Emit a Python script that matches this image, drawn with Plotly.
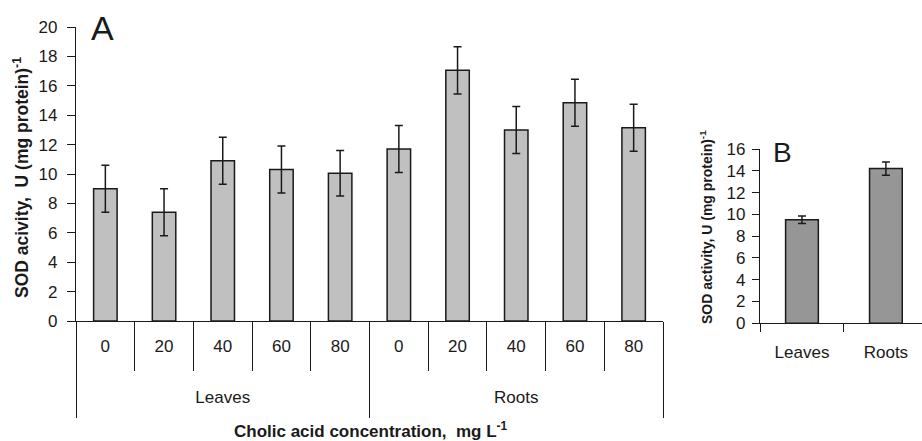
import plotly.graph_objects as go

# ---------------- data ----------------
groups = ["Leaves"] * 5 + ["Roots"] * 5
concentrations = ["0", "20", "40", "60", "80"] * 2
sod_a = [9.0, 7.4, 10.9, 10.3, 10.05, 11.7, 17.05, 13.0, 14.85, 13.15]
err_a = [1.6, 1.6, 1.6, 1.6, 1.55, 1.6, 1.6, 1.6, 1.6, 1.6]

tissues_b = ["Leaves", "Roots"]
sod_b = [9.5, 14.2]
err_b = [0.35, 0.6]

yticks_a = list(range(0, 21, 2))
yticks_b = list(range(0, 17, 2))

# ---------------- derived helpers ----------------
keys_a = [f"{g} {c}" for g, c in zip(groups, concentrations)]
group_names = list(dict.fromkeys(groups))
group_centers, group_bounds = [], [-0.5]
start = 0
for g in group_names:
    n = groups.count(g)
    group_centers.append(start + (n - 1) / 2)
    start += n
    group_bounds.append(start - 0.5)

FONT = "Liberation Sans, Arial, sans-serif"
INK = "#1a1a1a"
W, H = 922, 441

fig = go.Figure()

fig.add_trace(go.Bar(
    x=keys_a, y=sod_a, xaxis="x", yaxis="y",
    width=0.4,
    marker=dict(color="#c0c0c0", line=dict(color=INK, width=1.5)),
    error_y=dict(type="data", array=err_a, visible=True, color=INK, thickness=1.5, width=4),
    showlegend=False, hoverinfo="x+y",
))

fig.add_trace(go.Bar(
    x=tissues_b, y=sod_b, xaxis="x4", yaxis="y2",
    width=0.39,
    marker=dict(color="#969696", line=dict(color=INK, width=1.5)),
    error_y=dict(type="data", array=err_b, visible=True, color=INK, thickness=1.5, width=4),
    showlegend=False, hoverinfo="x+y",
))

# invisible helper traces so the overlay (group label / divider) axes get drawn
for ax_name, xs in (("x2", group_centers), ("x3", group_bounds)):
    fig.add_trace(go.Scatter(
        x=xs, y=[0] * len(xs), xaxis=ax_name, yaxis="y",
        mode="markers", marker=dict(opacity=0, size=1),
        hoverinfo="skip", showlegend=False,
    ))

TS = 17
tickfont = dict(family=FONT, size=TS, color=INK)

# panel geometry (pixels -> paper)
ax_l, ax_r = 76 / W, 663 / W
ay_b, ay_t = (H - 321) / H, (H - 27) / H
bx_l, bx_r = 760 / W, 1.0
by_b, by_t = (H - 323.3) / H, (H - 149) / H

common = dict(showgrid=False, zeroline=False, automargin=False)

fig.update_layout(
    width=W, height=H,
    margin=dict(l=0, r=0, t=0, b=0, autoexpand=False),
    paper_bgcolor="white", plot_bgcolor="white",
    xaxis=dict(
        domain=[ax_l, ax_r], anchor="y",
        type="category", categoryorder="array", categoryarray=keys_a,
        range=[-0.5, len(keys_a) - 0.5],
        tickmode="array", tickvals=keys_a, ticktext=concentrations,
        tickson="boundaries", ticks="outside", ticklen=49, tickwidth=1.3, tickcolor=INK,
        ticklabelstandoff=9,
        showline=True, linecolor=INK, linewidth=1.3,
        tickfont=tickfont, **common,
    ),
    xaxis2=dict(
        overlaying="x", anchor="y", type="linear",
        range=[-0.5, len(keys_a) - 0.5],
        tickmode="array", tickvals=group_centers, ticktext=group_names,
        ticks="", ticklabelstandoff=64,
        showline=False, tickfont=tickfont, **common,
    ),
    xaxis3=dict(
        overlaying="x", anchor="y", type="linear",
        range=[-0.5, len(keys_a) - 0.5],
        tickmode="array", tickvals=group_bounds,
        showticklabels=False,
        ticks="outside", ticklen=96, tickwidth=1.3, tickcolor=INK,
        showline=False, **common,
    ),
    yaxis=dict(
        domain=[ay_b, ay_t], anchor="x",
        range=[0, 20], tickmode="array", tickvals=yticks_a,
        ticks="outside", ticklen=8, tickwidth=1.3, tickcolor=INK,
        ticklabelstandoff=6,
        showline=True, linecolor=INK, linewidth=1.3,
        tickfont=tickfont, **common,
    ),
    xaxis4=dict(
        domain=[bx_l, bx_r], anchor="y2",
        type="category", categoryorder="array", categoryarray=tissues_b,
        range=[-0.5, 1.43],
        tickson="boundaries", ticks="outside", ticklen=8, tickwidth=1.3, tickcolor=INK,
        ticklabelstandoff=13,
        showline=True, linecolor=INK, linewidth=1.3,
        tickfont=tickfont, **common,
    ),
    yaxis2=dict(
        domain=[by_b, by_t], anchor="x4",
        range=[0, 16], tickmode="array", tickvals=yticks_b,
        ticks="outside", ticklen=7, tickwidth=1.3, tickcolor=INK,
        ticklabelstandoff=3,
        showline=True, linecolor=INK, linewidth=1.3,
        tickfont=tickfont, **common,
    ),
    annotations=[
        dict(text="A", x=102 / W, y=(H - 28) / H, xref="paper", yref="paper",
             showarrow=False, xanchor="center", yanchor="middle",
             font=dict(family=FONT, size=34, color=INK)),
        dict(text="B", x=782 / W, y=(H - 152) / H, xref="paper", yref="paper",
             showarrow=False, xanchor="center", yanchor="middle",
             font=dict(family=FONT, size=28, color=INK)),
        dict(text="<b>SOD acivity,  U (mg protein)<sup>-1</sup></b>",
             x=21 / W, y=(H - 178) / H, xref="paper", yref="paper",
             showarrow=False, textangle=-90, xanchor="center", yanchor="middle",
             font=dict(family=FONT, size=17.5, color=INK)),
        dict(text="<b>Cholic acid concentration,  mg L<sup>-1</sup></b>",
             x=371 / W, y=(H - 430) / H, xref="paper", yref="paper",
             showarrow=False, xanchor="center", yanchor="middle",
             font=dict(family=FONT, size=17, color=INK)),
        dict(text="<b>SOD activity, U (mg protein)<sup>-1</sup></b>",
             x=706 / W, y=(H - 227) / H, xref="paper", yref="paper",
             showarrow=False, textangle=-90, xanchor="center", yanchor="middle",
             font=dict(family=FONT, size=14, color=INK)),
    ],
)

fig.write_html(
    "out.html",
    config={"displayModeBar": False},
    post_script="document.body.style.margin='0';document.body.style.overflow='hidden';",
)
